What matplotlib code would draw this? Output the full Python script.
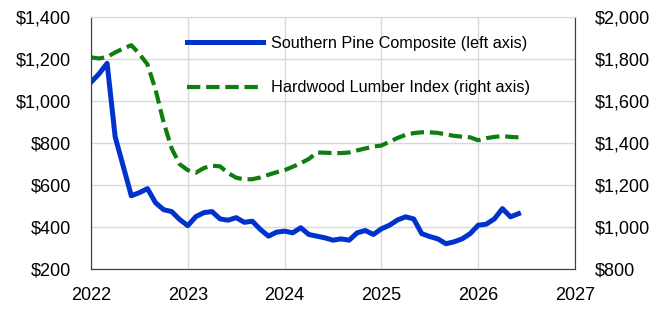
import matplotlib.pyplot as plt
from matplotlib.ticker import FuncFormatter

plt.rcParams['font.family'] = ['Liberation Sans', 'DejaVu Sans']

# monthly values starting Jan 2022
pine = [1090, 1130, 1180, 830, 690, 550, 565, 584, 517, 484, 475, 437,
        408, 451, 470, 475, 440, 434, 446, 424, 429, 390, 358, 377,
        382, 374, 398, 366, 358, 350, 339, 345, 339, 374, 385, 366,
        393, 410, 435, 450, 440, 370, 356, 345, 322, 331, 345, 370,
        410, 415, 440, 489, 450, 465]
hardwood = [1808, 1803, 1810, 1832, 1850, 1866, 1825, 1775, 1655, 1500, 1375, 1300,
            1272, 1260, 1282, 1293, 1290, 1258, 1236, 1228, 1229, 1237, 1250, 1262,
            1272, 1288, 1305, 1325, 1356, 1355, 1353, 1353, 1356, 1366, 1375, 1384,
            1389, 1407, 1425, 1440, 1448, 1452, 1452, 1449, 1442, 1435, 1431, 1428,
            1414, 1424, 1430, 1434, 1430, 1428]
years = [2022, 2023, 2024, 2025, 2026, 2027]

x_pine = [2022 + i / 12 for i in range(len(pine))]
x_hw = [2022 + i / 12 for i in range(len(hardwood))]

fig = plt.figure(figsize=(6.68, 3.10), dpi=100)
ax = fig.add_axes([0.1362, 0.131, 0.7246, 0.814])
ax2 = ax.twinx()

ax.plot(x_pine, pine, color='#0033cc', linewidth=3.6, solid_joinstyle='round',
        label='Southern Pine Composite (left axis)')
ax2.plot(x_hw, hardwood, color='#0f7d0f', linewidth=3.0, dashes=(3.2, 1.4),
         label='Hardwood Lumber Index (right axis)')

ax.set_xlim(2022, 2027)
ax.set_ylim(200, 1400)
ax2.set_ylim(800, 2000)
ax.set_xticks(years)
ax.set_yticks(range(200, 1401, 200))
ax2.set_yticks(range(800, 2001, 200))

money = FuncFormatter(lambda v, p: '${:,.0f}'.format(v))
ax.yaxis.set_major_formatter(money)
ax2.yaxis.set_major_formatter(money)

ax.grid(True, color='#d9d9d9', linewidth=1.0)
ax.set_axisbelow(True)
ax.tick_params(axis='both', length=0, labelsize=13, colors='#000000')
ax.tick_params(axis='x', pad=13)
ax.tick_params(axis='y', pad=14.5)
ax2.tick_params(axis='y', length=0, labelsize=13, pad=14.5)

for a in (ax, ax2):
    a.spines['top'].set_color('#d9d9d9')
    a.spines['left'].set_color('#404040')
    a.spines['bottom'].set_color('#404040')
    a.spines['right'].set_color('#404040')

h1, l1 = ax.get_legend_handles_labels()
h2, l2 = ax2.get_legend_handles_labels()
ax2.legend(h1 + h2, l1 + l2, loc='upper left', bbox_to_anchor=(0.185, 0.952),
           frameon=False, fontsize=11.7, handlelength=4.7, handletextpad=0.45,
           labelspacing=1.82, borderaxespad=0)

fig.savefig('out.png', dpi=100)
